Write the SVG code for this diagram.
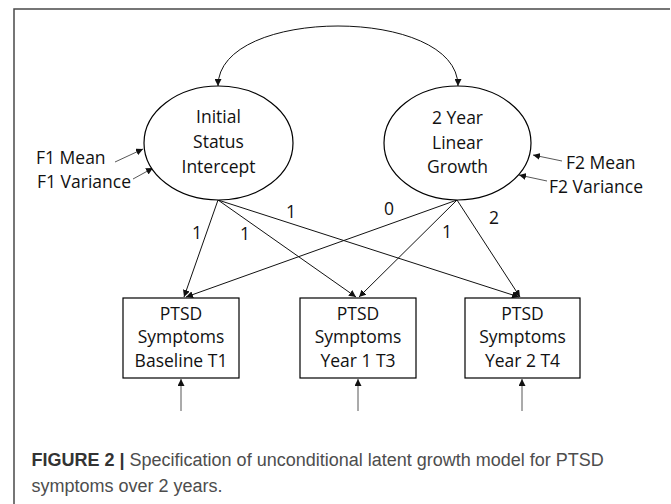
<svg xmlns="http://www.w3.org/2000/svg" width="671" height="504" viewBox="0 0 671 504">
<style>
  .frame { fill: none; stroke: #4a4a4a; stroke-width: 1.5; }
  .node { fill: #fff; stroke: #000; stroke-width: 1.2; }
  .lbl { font-family: "Open Sans", "Liberation Sans", sans-serif; font-size: 17.5px; fill: #111; }
  .mid { text-anchor: middle; }
  .conn { fill: none; stroke: #111; stroke-width: 1; }
  .thin { fill: none; stroke: #444; stroke-width: 0.9; }
  .cap { font-family: "Liberation Sans", Arial, sans-serif; font-size: 18px; fill: #4d4d4d; }
  .capb { font-weight: bold; fill: #333; }
</style>
<defs>
  <marker id="ah" viewBox="0 0 10 10" refX="10" refY="5" markerWidth="7" markerHeight="7" markerUnits="userSpaceOnUse" orient="auto">
    <path d="M0,0 L10,5 L0,10 z" fill="#111"/>
  </marker>
</defs>
<rect width="671" height="504" fill="#fff"/>
<path class="frame" d="M670,9 H14 V504"/>

<g id="connectors">
  <path class="conn" d="M218,86 C218,6 458,6 458,86" marker-end="url(#ah)" marker-start="url(#ahs)"/>
  <line class="conn" x1="218" y1="200" x2="184" y2="297" marker-end="url(#ah)"/>
  <line class="conn" x1="218" y1="200" x2="356" y2="297" marker-end="url(#ah)"/>
  <line class="conn" x1="218" y1="200" x2="519" y2="297" marker-end="url(#ah)"/>
  <line class="conn" x1="457" y1="200" x2="186" y2="297" marker-end="url(#ah)"/>
  <line class="conn" x1="457" y1="200" x2="359" y2="297" marker-end="url(#ah)"/>
  <line class="conn" x1="457" y1="200" x2="520" y2="297" marker-end="url(#ah)"/>
  <line class="thin" x1="115" y1="162" x2="143" y2="149" marker-end="url(#ah)"/>
  <line class="thin" x1="133" y1="179" x2="153" y2="168" marker-end="url(#ah)"/>
  <line class="thin" x1="562" y1="161" x2="533" y2="155" marker-end="url(#ah)"/>
  <line class="thin" x1="547" y1="181" x2="519" y2="175" marker-end="url(#ah)"/>
  <line class="thin" x1="181" y1="411" x2="181" y2="379" marker-end="url(#ah)"/>
  <line class="thin" x1="358" y1="411" x2="358" y2="379" marker-end="url(#ah)"/>
  <line class="thin" x1="522" y1="411" x2="522" y2="379" marker-end="url(#ah)"/>
  <text class="lbl mid" x="197" y="239">1</text>
  <text class="lbl mid" x="245" y="240">1</text>
  <text class="lbl mid" x="291" y="218">1</text>
  <text class="lbl mid" x="389" y="215">0</text>
  <text class="lbl mid" x="447" y="238">1</text>
  <text class="lbl mid" x="494" y="224">2</text>
</g>
<defs>
  <marker id="ahs" viewBox="0 0 10 10" refX="10" refY="5" markerWidth="7" markerHeight="7" markerUnits="userSpaceOnUse" orient="auto-start-reverse">
    <path d="M0,0 L10,5 L0,10 z" fill="#111"/>
  </marker>
</defs>

<g id="f1">
  <ellipse class="node" cx="218.5" cy="143" rx="74.5" ry="57"/>
  <text class="lbl mid" x="218.5" y="123">Initial</text>
  <text class="lbl mid" x="218.5" y="148">Status</text>
  <text class="lbl mid" x="218.5" y="173">Intercept</text>
</g>
<g id="f2">
  <ellipse class="node" cx="457.5" cy="143" rx="73.5" ry="57"/>
  <text class="lbl mid" x="457.5" y="124">2 Year</text>
  <text class="lbl mid" x="457.5" y="149">Linear</text>
  <text class="lbl mid" x="457.5" y="173">Growth</text>
</g>
<g id="f1-labels">
  <text class="lbl" x="36" y="164">F1 Mean</text>
  <text class="lbl" x="37" y="188">F1 Variance</text>
</g>
<g id="f2-labels">
  <text class="lbl" x="566" y="169">F2 Mean</text>
  <text class="lbl" x="549" y="193">F2 Variance</text>
</g>
<g id="t1">
  <rect class="node" x="123" y="298" width="116" height="80"/>
  <text class="lbl mid" x="181" y="320">PTSD</text>
  <text class="lbl mid" x="181" y="343">Symptoms</text>
  <text class="lbl mid" x="181" y="367">Baseline T1</text>
</g>
<g id="t3">
  <rect class="node" x="300" y="298" width="116" height="80"/>
  <text class="lbl mid" x="358" y="320">PTSD</text>
  <text class="lbl mid" x="358" y="343">Symptoms</text>
  <text class="lbl mid" x="358" y="367">Year 1 T3</text>
</g>
<g id="t4">
  <rect class="node" x="465" y="298" width="115" height="80"/>
  <text class="lbl mid" x="522.5" y="320">PTSD</text>
  <text class="lbl mid" x="522.5" y="343">Symptoms</text>
  <text class="lbl mid" x="522.5" y="367">Year 2 T4</text>
</g>

<g id="caption">
  <text class="cap" x="31.5" y="466"><tspan class="capb">FIGURE 2 |</tspan> Specification of unconditional latent growth model for PTSD</text>
  <text class="cap" x="31.5" y="492">symptoms over 2 years.</text>
</g>
</svg>
